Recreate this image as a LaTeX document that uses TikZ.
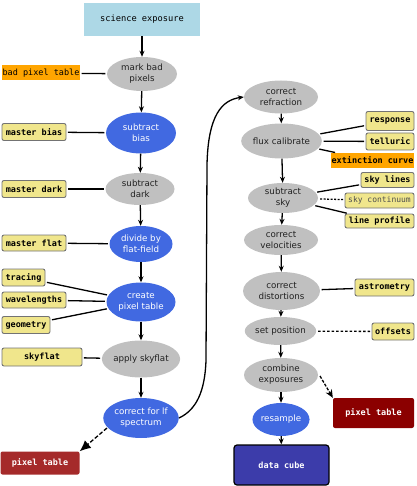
\documentclass[tikz,border=0pt]{standalone}
\usepackage{fontspec}
\setmainfont{DejaVu Sans}
\setsansfont{DejaVu Sans}
\setmonofont{DejaVu Sans Mono}
\usetikzlibrary{shapes.geometric,arrows.meta}
\definecolor{procgray}{HTML}{C0C0C0}
\definecolor{royal}{HTML}{4169E1}
\definecolor{khakiy}{HTML}{F0E68C}
\definecolor{orangey}{HTML}{FFA500}
\definecolor{brownred}{HTML}{A52A2A}
\definecolor{darkredy}{HTML}{8B0000}
\definecolor{cubeblue}{HTML}{3C3CAA}
\definecolor{lblue}{HTML}{ADD8E6}
\definecolor{txtgray}{HTML}{222222}
\tikzset{
  proc/.style={ellipse, fill=procgray, inner sep=0pt, align=center,
    text=txtgray, font=\sffamily\fontsize{8.7}{11}\selectfont},
  bproc/.style={proc, fill=royal, text=white},
  inbox/.style={rectangle, rounded corners=2pt, fill=khakiy, draw=gray!90!black,
    line width=0.9pt, inner sep=0pt, font=\ttfamily\bfseries\fontsize{8.5}{10}\selectfont},
  orbox/.style={rectangle, fill=orangey, inner sep=0pt,
    font=\ttfamily\fontsize{8.5}{10}\selectfont},
  outbox/.style={rectangle, rounded corners=2pt, inner sep=0pt, text=white,
    font=\ttfamily\bfseries\fontsize{8.5}{10}\selectfont},
  flow/.style={line width=1.3pt, -{Stealth[length=6pt,width=5pt]}},
  feed/.style={line width=1.3pt, shorten <=1.5pt, shorten >=1.5pt},
}
\begin{document}
\begin{tikzpicture}[x=1pt,y=-1pt]
\useasboundingbox (0,0) rectangle (416,486);
% left column
\node[rectangle, fill=lblue, minimum width=116pt, minimum height=33pt, inner sep=0pt,
  font=\ttfamily\fontsize{8.7}{10}\selectfont] (sci) at (142,19.5) {science exposure};
\node[proc, minimum width=70pt, minimum height=34pt] (mark) at (142,74) {mark bad\\pixels};
\node[orbox, minimum width=78pt, minimum height=15pt] (badpix) at (41,73) {bad pixel table};
\node[bproc, minimum width=70pt, minimum height=41pt] (bias) at (141,133) {subtract\\bias};
\node[inbox, minimum width=64pt, minimum height=17pt] (mbias) at (34,132) {master bias};
\node[proc, minimum width=69pt, minimum height=32pt] (dark) at (140,189) {subtract\\dark};
\node[inbox, minimum width=64pt, minimum height=17pt] (mdark) at (34,189) {master dark};
\node[bproc, minimum width=63pt, minimum height=36pt] (flat) at (141,244) {divide by\\flat-field};
\node[inbox, minimum width=64pt, minimum height=16pt] (mflat) at (34,243) {master flat};
\node[bproc, minimum width=69pt, minimum height=39pt] (create) at (141,302) {create\\pixel table};
\node[inbox, minimum width=43pt, minimum height=17pt] (tracing) at (23.5,277.5) {tracing};
\node[inbox, minimum width=64pt, minimum height=16pt] (wavel) at (34,300) {wavelengths};
\node[inbox, minimum width=48pt, minimum height=17pt] (geom) at (26,325) {geometry};
\node[proc, minimum width=68pt, minimum height=37pt] (apply) at (141,359) {apply skyflat};
\node[inbox, minimum width=80pt, minimum height=18pt] (skyflat) at (42,357) {skyflat};
\node[bproc, minimum width=68pt, minimum height=40pt] (lf) at (141,418) {correct for lf\\spectrum};
\node[outbox, fill=brownred, minimum width=79pt, minimum height=23pt] (ptl) at (40,463) {pixel table};
% right column
\node[proc, minimum width=74pt, minimum height=33pt] (refr) at (281,97) {correct\\refraction};
\node[proc, minimum width=73pt, minimum height=35pt] (flux) at (281.5,141) {flux calibrate};
\node[inbox, minimum width=48pt, minimum height=19pt] (resp) at (390,121) {response};
\node[inbox, minimum width=48pt, minimum height=17pt] (tell) at (390,141.5) {telluric};
\node[orbox, font=\ttfamily\bfseries\fontsize{8.5}{10}\selectfont, minimum width=83pt, minimum height=15pt] (ext) at (372.5,160.5) {extinction curve};
\node[proc, minimum width=70pt, minimum height=30pt] (sky) at (283,198) {subtract\\sky};
\node[inbox, minimum width=53pt, minimum height=15pt] (skylines) at (387.5,180) {sky lines};
\node[inbox, font=\ttfamily\fontsize{8}{10}\selectfont, text=txtgray!80, minimum width=69pt, minimum height=15pt] (skycont) at (379.5,200.5) {sky continuum};
\node[inbox, minimum width=69pt, minimum height=14pt] (lineprof) at (379.5,221) {line profile};
\node[proc, minimum width=74pt, minimum height=30pt] (vel) at (281,240) {correct\\velocities};
\node[proc, minimum width=77pt, minimum height=38pt] (dist) at (281.5,291) {correct\\distortions};
\node[inbox, minimum width=59pt, minimum height=17pt] (astrom) at (384.5,287.5) {astrometry};
\node[proc, minimum width=65pt, minimum height=28pt] (setpos) at (280.5,331) {set position};
\node[inbox, minimum width=42pt, minimum height=17pt] (offsets) at (393,331.5) {offsets};
\node[proc, minimum width=74pt, minimum height=34pt] (comb) at (281,375) {combine\\exposures};
\node[outbox, fill=darkredy, minimum width=81pt, minimum height=30pt] (ptr) at (373.5,413) {pixel table};
\node[bproc, minimum width=56pt, minimum height=33pt] (resamp) at (281,419.5) {resample};
\node[outbox, fill=cubeblue, draw=black, line width=1.2pt, rounded corners=3pt,
  minimum width=95pt, minimum height=40pt] (cube) at (281.5,465) {data cube};
% main flow left
\draw[flow] (sci) -- (mark);
\draw[flow] (mark) -- (bias);
\draw[flow] (bias) -- (dark);
\draw[flow] (dark) -- (flat);
\draw[flow] (flat) -- (create);
\draw[flow] (create) -- (apply);
\draw[flow] (apply) -- (lf);
\coordinate (lfo) at (107,428);
\draw[line width=1.3pt, dash pattern=on 4pt off 2pt, -{Latex[length=11pt,width=10pt]}] (lfo) -- (ptl.north east);
% curve to right column
\coordinate (c1) at (206,360);
\coordinate (c2) at (207,165);
\draw[flow] (lf.east) .. controls (196,410) and (205,392) .. (c1) -- (c2)
  .. controls (208,115) and (222,100) .. (refr.west);
% main flow right
\draw[flow] (refr) -- (flux);
\draw[flow] (flux) -- (sky);
\draw[flow] (sky) -- (vel);
\draw[flow] (vel) -- (dist);
\draw[flow] (dist) -- (setpos);
\draw[flow] (setpos) -- (comb);
\draw[flow] (comb) -- (resamp);
\draw[flow] (resamp) -- (cube);
\coordinate (co) at (320,376);
\draw[line width=1.3pt, dash pattern=on 3pt off 1.5pt, -{Stealth[length=8pt,width=7pt]}] (co) -- (ptr.north west);
% feeds
\draw[feed] (badpix) -- (mark);
\draw[feed] (mbias) -- (bias);
\draw[feed] (mdark) -- (dark);
\draw[feed] (mflat) -- (flat);
\draw[feed] (tracing) -- (create);
\draw[feed] (wavel) -- (create);
\draw[feed] (geom) -- (create);
\draw[feed] (skyflat) -- (apply);
\draw[feed] (resp) -- (flux);
\draw[feed] (tell) -- (flux);
\draw[feed] (ext) -- (flux);
\draw[feed] (skylines) -- (sky);
\draw[feed, dash pattern=on 2pt off 1.5pt] (skycont) -- (sky);
\draw[feed] (lineprof) -- (sky);
\draw[feed] (astrom) -- (dist);
\draw[feed, dash pattern=on 2.5pt off 2pt] (offsets) -- (setpos);
\end{tikzpicture}
\end{document}
